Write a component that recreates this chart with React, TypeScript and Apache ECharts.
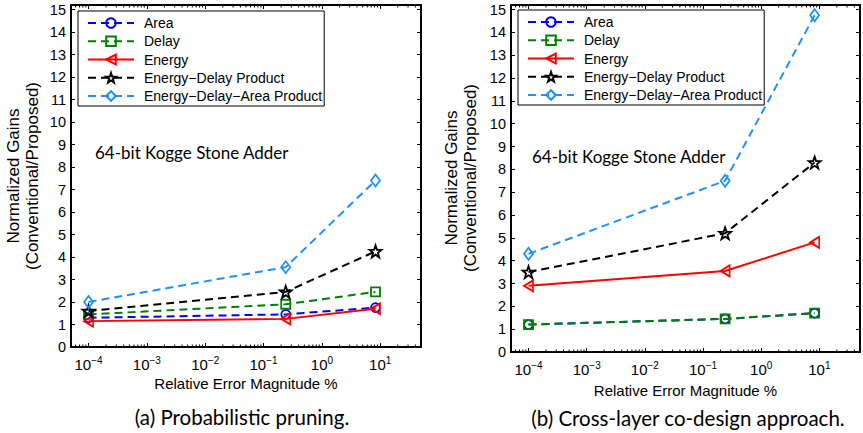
import React, { useEffect, useRef } from 'react';
import * as echarts from 'echarts';

// ---------- data ----------
const errorMagnitudes = [1e-4, 0.24, 8.3];
const seriesNames = [
  'Area',
  'Delay',
  'Energy',
  'Energy\u2212Delay Product',
  'Energy\u2212Delay\u2212Area Product',
];
// (a) Probabilistic pruning
const pruningArea = [1.3, 1.45, 1.75];
const pruningDelay = [1.45, 1.9, 2.45];
const pruningEnergy = [1.15, 1.25, 1.7];
const pruningEDP = [1.6, 2.45, 4.25];
const pruningEDAP = [2.0, 3.55, 7.4];
// (b) Cross-layer co-design approach
const crossArea = [1.2, 1.45, 1.7];
const crossDelay = [1.2, 1.45, 1.7];
const crossEnergy = [2.9, 3.55, 4.8];
const crossEDP = [3.5, 5.2, 8.3];
const crossEDAP = [4.3, 7.5, 14.75];

const captions = ['(a) Probabilistic pruning.', '(b) Cross-layer co-design approach.'];
const annotation = '64-bit Kogge Stone Adder';
const yAxisTitle = 'Normalized Gains\n(Conventional/Proposed)';
const xAxisTitle = 'Relative Error Magnitude %';

const X_MIN = 5e-5;
const X_MAX = 50;
const Y_MAX = 15.2;

// minor ticks of the log axis (2..9 per decade)
const minorTickValues: number[] = [];
for (let e = -5; e <= 1; e++) {
  for (let k = 2; k <= 9; k++) {
    const v = k * Math.pow(10, e);
    if (v > X_MIN * 1.0001 && v < X_MAX * 0.9999) minorTickValues.push(v);
  }
}

const FONT = '"Liberation Sans", Arial, sans-serif';
const CAL = 'Lato, "Open Sans", sans-serif';

const STAR =
  'path://M0,-10 L2.35,-3.24 L9.51,-3.09 L3.8,1.24 L5.88,8.09 L0,4 L-5.88,8.09 L-3.8,1.24 L-9.51,-3.09 L-2.35,-3.24 Z';
const LEFT_TRI = 'path://M0,5 L8,0 L8,10 Z';

const styles = [
  { color: '#0000ff', dashed: true, symbol: 'circle', size: 9 },
  { color: '#008000', dashed: true, symbol: 'rect', size: 9 },
  { color: '#ff0000', dashed: false, symbol: LEFT_TRI, size: [9, 11] },
  { color: '#000000', dashed: true, symbol: STAR, size: 12 },
  { color: '#1e90ff', dashed: true, symbol: 'diamond', size: [9, 12] },
];

function makeSeries(name: string, values: number[], grid: number, idx: number) {
  const s = styles[idx];
  return {
    type: 'line',
    name,
    xAxisIndex: grid * 2,
    yAxisIndex: grid * 2,
    data: errorMagnitudes.map((x, i) => [x, values[i]]),
    symbol: s.symbol,
    symbolSize: s.size,
    showSymbol: true,
    lineStyle: { color: s.color, width: 2, type: s.dashed ? [8, 5] : 'solid' },
    itemStyle: { color: 'rgba(255,255,255,0)', borderColor: s.color, borderWidth: 1.8 },
    emphasis: { disabled: true },
    z: 3 + idx,
  };
}

function minorTickSeries(grid: number) {
  return {
    type: 'custom',
    xAxisIndex: grid * 2,
    yAxisIndex: grid * 2,
    silent: true,
    clip: false,
    z: 10,
    data: minorTickValues.map((v) => [v, 0]),
    encode: { x: 0, y: 1 },
    renderItem: (_p: any, api: any) => {
      const v = api.value(0);
      const b = api.coord([v, 0]);
      const t = api.coord([v, Y_MAX]);
      return {
        type: 'group',
        children: [
          { type: 'line', shape: { x1: b[0], y1: b[1], x2: b[0], y2: b[1] - 2.5 }, style: { stroke: '#000', lineWidth: 1 } },
          { type: 'line', shape: { x1: t[0], y1: t[1], x2: t[0], y2: t[1] + 2.5 }, style: { stroke: '#000', lineWidth: 1 } },
        ],
      };
    },
  };
}

function xAxis(grid: number, position: 'top' | 'bottom', nameGap: number) {
  const main = position === 'bottom';
  return {
    type: 'log',
    logBase: 10,
    gridIndex: grid,
    position,
    min: X_MIN,
    max: X_MAX,
    axisLine: { show: true, onZero: false, lineStyle: { color: '#000', width: 2 } },
    axisTick: { show: true, inside: true, length: 4, lineStyle: { color: '#000', width: 1 } },
    splitLine: { show: false },
    minorTick: { show: false },
    axisLabel: main
      ? {
          show: true,
          margin: 8,
          formatter: (v: number) => {
            const l = Math.log10(v);
            const e = Math.round(l);
            if (Math.abs(l - e) > 1e-6) return '';
            return `{b|10}{s|${e < 0 ? '\u2212' + -e : e}}`;
          },
          rich: {
            b: { fontSize: 15, fontFamily: FONT, color: '#000', lineHeight: 18 },
            s: { fontSize: 10, fontFamily: FONT, color: '#000', lineHeight: 10, verticalAlign: 'top' },
          },
        }
      : { show: false },
    name: main ? xAxisTitle : '',
    nameLocation: 'middle',
    nameGap,
    nameTextStyle: { fontSize: 15, fontFamily: FONT, color: '#000' },
  };
}

function yAxis(grid: number, position: 'left' | 'right') {
  const main = position === 'left';
  return {
    type: 'value',
    gridIndex: grid,
    position,
    min: 0,
    max: Y_MAX,
    interval: 1,
    axisLine: { show: true, lineStyle: { color: '#000', width: 2 } },
    axisTick: { show: true, inside: true, length: 4, lineStyle: { color: '#000', width: 1 } },
    splitLine: { show: false },
    axisLabel: main
      ? {
          show: true,
          margin: 5,
          fontSize: 14.5,
          fontFamily: FONT,
          color: '#000',
          formatter: (v: number) => (Math.abs(v - Math.round(v)) < 1e-9 ? String(Math.round(v)) : ''),
        }
      : { show: false },
  };
}

function legend(left: number, top: number) {
  return {
    data: seriesNames,
    orient: 'vertical',
    left,
    top,
    itemWidth: 46,
    itemHeight: 12,
    itemGap: 2.25,
    padding: [4, 2, 2, 9],
    borderColor: '#000',
    borderWidth: 1,
    backgroundColor: '#fff',
    selectedMode: false,
    textStyle: { fontSize: 14, fontFamily: FONT, color: '#000', lineHeight: 16, padding: [0, 0, 0, 5] },
  };
}

export default function App() {
  const ref = useRef<HTMLDivElement>(null);
  useEffect(() => {
    if (!ref.current) return;
    const chart = echarts.init(ref.current, undefined, { renderer: 'svg' });
    const pruning = [pruningArea, pruningDelay, pruningEnergy, pruningEDP, pruningEDAP];
    const cross = [crossArea, crossDelay, crossEnergy, crossEDP, crossEDAP];
    chart.setOption({
      animation: false,
      backgroundColor: '#fff',
      grid: [
        { left: 71, top: 5, width: 350, height: 342, show: false },
        { left: 511, top: 5, width: 356, height: 347, show: false },
      ],
      xAxis: [xAxis(0, 'bottom', 28), xAxis(0, 'top', 0), xAxis(1, 'bottom', 31), xAxis(1, 'top', 0)],
      yAxis: [yAxis(0, 'left'), yAxis(0, 'right'), yAxis(1, 'left'), yAxis(1, 'right')],
      legend: [legend(78, 11), legend(518, 10)],
      series: [
        ...pruning.map((vals, i) => makeSeries(seriesNames[i], vals, 0, i)),
        ...cross.map((vals, i) => makeSeries(seriesNames[i], vals, 1, i)),
        minorTickSeries(0),
        minorTickSeries(1),
      ],
      graphic: [
        {
          type: 'text', x: 23, y: 176, rotation: Math.PI / 2,
          style: { text: yAxisTitle, fontSize: 17, fontFamily: FONT, fill: '#000', align: 'center', verticalAlign: 'middle', lineHeight: 19 },
        },
        {
          type: 'text', x: 461, y: 178, rotation: Math.PI / 2,
          style: { text: yAxisTitle, fontSize: 17, fontFamily: FONT, fill: '#000', align: 'center', verticalAlign: 'middle', lineHeight: 19 },
        },
        {
          type: 'text', x: 95, y: 152,
          style: { text: annotation, fontSize: 17, fontFamily: CAL, fill: '#000', align: 'left', verticalAlign: 'middle' },
        },
        {
          type: 'text', x: 532, y: 156,
          style: { text: annotation, fontSize: 17, fontFamily: CAL, fill: '#000', align: 'left', verticalAlign: 'middle' },
        },
        {
          type: 'text', x: 242, y: 417,
          style: { text: captions[0], fontSize: 20.5, fontFamily: CAL, fill: '#000', align: 'center', verticalAlign: 'middle' },
        },
        {
          type: 'text', x: 688, y: 418,
          style: { text: captions[1], fontSize: 20.5, fontFamily: CAL, fill: '#000', align: 'center', verticalAlign: 'middle' },
        },
      ],
    });
    return () => chart.dispose();
  }, []);
  return <div ref={ref} style={{ position: 'fixed', left: 0, top: 0, width: 863, height: 433 }} />;
}
